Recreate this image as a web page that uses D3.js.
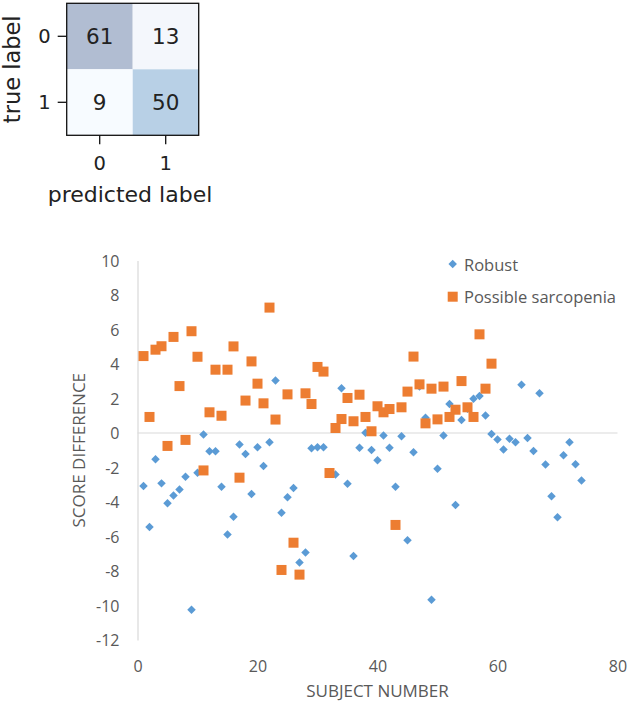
<!DOCTYPE html>
<html>
<head>
<meta charset="utf-8">
<script src="https://cdn.jsdelivr.net/npm/d3@7"></script>
<style>
  html, body { margin: 0; padding: 0; background: #ffffff; }
  svg { display: block; }
</style>
</head>
<body>
<svg id="chart" width="629" height="702"></svg>
<script>
// ---------- DATA ----------
const cmLabels = ["0", "1"];
const cmValues = [[61, 13], [9, 50]];
const cmXLabel = "predicted label";
const cmYLabel = "true label";

const seriesNames = ["Robust", "Possible sarcopenia"];
// Score difference per subject (subject number = position + 1)
const robustValues = [
  -3.07, -5.45, -1.52, -2.92, -4.07, -3.63, -3.28, -2.54, -10.25, -2.30,
  -0.09, -1.06, -1.06, -3.11, -5.89, -4.85, -0.67, -1.22, -3.54, -0.83,
  -1.91, -0.54, 3.04, -4.62, -3.73, -3.19, -7.51, -6.93, -0.89, -0.82,
  -0.82, -2.30, -2.41, 2.60, -2.94, -7.13, -0.85, 0.01, -0.98, -1.58,
  -0.15, -0.85, -3.11, -0.19, -6.22, -1.12, 2.70, 0.89, -9.66, -2.07,
  -0.15, 1.68, -4.17, 0.75, 1.40, 1.99, 2.15, 1.02, -0.06, -0.37,
  -0.96, -0.33, -0.54, 2.80, -0.29, -1.04, 2.30, -1.83, -3.67, -4.89,
  -1.29, -0.54, -1.81, -2.76
];
const sarcopeniaValues = [
  4.46, 0.93, 4.83, 5.03, -0.75, 5.57, 2.72, -0.40, 5.90, 4.42,
  -2.17, 1.20, 3.67, 1.00, 3.67, 5.02, -2.59, 1.88, 4.15, 2.86,
  1.72, 7.27, 0.78, -7.94, 2.24, -6.36, -8.21, 2.30, 1.68, 3.83,
  3.56, -2.32, 0.29, 0.81, 2.03, 0.68, 2.22, 0.93, 0.10, 1.55,
  1.20, 1.39, -5.33, 1.49, 2.40, 4.43, 2.82, 0.56, 2.57, 0.79,
  2.69, 0.93, 1.35, 3.01, 1.49, 0.93, 5.72, 2.57, 4.02
];
const xTicks = [0, 20, 40, 60, 80];
const yTicks = [-12, -10, -8, -6, -4, -2, 0, 2, 4, 6, 8, 10];
const xTitle = "SUBJECT NUMBER";
const yTitle = "SCORE DIFFERENCE";

// ---------- STYLE ----------
const blue = "#5B9BD5", orange = "#ED7D31";
const textGrey = "#595959", axisGrey = "#D9D9D9";
const chartFont = "'Open Sans', 'Liberation Sans', sans-serif";
const mplFont = "'DejaVu Sans', sans-serif";
const plainNum = d => String(d);

const svg = d3.select("#chart");

// ---------- CONFUSION MATRIX ----------
const cm = { left: 66.7, top: 3.3, size: 132 };
const cmx = d3.scaleBand().domain(cmLabels).range([cm.left, cm.left + cm.size]);
const cmy = d3.scaleBand().domain(cmLabels).range([cm.top, cm.top + cm.size]);
const cmColor = d3.scaleLinear()
  .domain([9, 13, 50, 61])
  .range(["#f7fbff", "#f4f7fc", "#b8d0e6", "#b1bdd2"]);

const gcm = svg.append("g");
const cells = [];
cmValues.forEach((row, i) => row.forEach((v, j) => cells.push({ r: cmLabels[i], c: cmLabels[j], v })));
gcm.selectAll("rect.cell").data(cells).join("rect")
  .attr("class", "cell")
  .attr("x", d => cmx(d.c)).attr("y", d => cmy(d.r))
  .attr("width", cmx.bandwidth()).attr("height", cmy.bandwidth())
  .attr("fill", d => cmColor(d.v));
gcm.selectAll("text.val").data(cells).join("text")
  .attr("class", "val")
  .attr("x", d => cmx(d.c) + cmx.bandwidth() / 2)
  .attr("y", d => cmy(d.r) + cmy.bandwidth() / 2)
  .attr("dy", "0.36em")
  .attr("text-anchor", "middle")
  .attr("font-family", mplFont).attr("font-size", 21.5)
  .attr("fill", "#222")
  .text(d => d.v);
gcm.append("rect")
  .attr("x", cm.left).attr("y", cm.top)
  .attr("width", cm.size).attr("height", cm.size)
  .attr("fill", "none").attr("stroke", "#111").attr("stroke-width", 1.3);

const cmLeftAxis = d3.axisLeft(cmy).tickSize(9).tickPadding(7);
gcm.append("g").attr("transform", `translate(${cm.left},0)`).call(cmLeftAxis)
  .call(g => g.select(".domain").remove())
  .call(g => g.selectAll("line").attr("stroke", "#111").attr("stroke-width", 1.3))
  .call(g => g.selectAll("text").attr("font-family", mplFont).attr("font-size", 19.5).attr("fill", "#222"));
const cmBottomAxis = d3.axisBottom(cmx).tickSize(9).tickPadding(12);
gcm.append("g").attr("transform", `translate(0,${cm.top + cm.size})`).call(cmBottomAxis)
  .call(g => g.select(".domain").remove())
  .call(g => g.selectAll("line").attr("stroke", "#111").attr("stroke-width", 1.3))
  .call(g => g.selectAll("text").attr("font-family", mplFont).attr("font-size", 19.5).attr("fill", "#222"));
gcm.append("text")
  .attr("x", 130).attr("y", 201.5)
  .attr("text-anchor", "middle")
  .attr("font-family", mplFont).attr("font-size", 22).attr("fill", "#222")
  .text(cmXLabel);
gcm.append("text")
  .attr("transform", `translate(20,${cm.top + cm.size / 2}) rotate(-90)`)
  .attr("text-anchor", "middle")
  .attr("font-family", mplFont).attr("font-size", 22.5).attr("fill", "#222")
  .text(cmYLabel);

// ---------- SCATTER ----------
const x = d3.scaleLinear().domain([0, 80]).range([137.5, 617.5]);
const y = d3.scaleLinear().domain([-12, 10]).range([640, 260.5]);

const gs = svg.append("g");

// y axis
gs.append("g").attr("transform", `translate(${x(0)},0)`)
  .call(d3.axisLeft(y).tickValues(yTicks).tickFormat(plainNum).tickSize(0).tickPadding(18))
  .call(g => g.select(".domain").attr("stroke", axisGrey).attr("stroke-width", 1.2))
  .call(g => g.selectAll("text").attr("font-family", chartFont).attr("font-size", 16)
    .attr("fill", textGrey).attr("dy", "0.36em"));

// x axis labels at bottom
gs.append("g").attr("transform", `translate(0,${y(-12)})`)
  .call(d3.axisBottom(x).tickValues(xTicks).tickFormat(plainNum).tickSize(0).tickPadding(21))
  .call(g => g.select(".domain").remove())
  .call(g => g.selectAll("text").attr("font-family", chartFont).attr("font-size", 16).attr("fill", textGrey));

// horizontal axis line at zero
gs.append("line")
  .attr("x1", x(0)).attr("x2", x(80))
  .attr("y1", y(0)).attr("y2", y(0))
  .attr("stroke", axisGrey).attr("stroke-width", 1.2);

// titles
gs.append("text")
  .attr("x", (x(0) + x(80)) / 2).attr("y", 697)
  .attr("text-anchor", "middle")
  .attr("font-family", chartFont).attr("font-size", 17).attr("fill", textGrey)
  .text(xTitle);
gs.append("text")
  .attr("transform", `translate(85,${(y(10) + y(-12)) / 2}) rotate(-90)`)
  .attr("text-anchor", "middle")
  .attr("font-family", chartFont).attr("font-size", 17).attr("fill", textGrey)
  .text(yTitle);

const diamond = d3.symbol().type(d3.symbolSquare).size(36);
// Robust: diamonds
gs.append("g").selectAll("path").data(robustValues).join("path")
  .attr("d", diamond())
  .attr("transform", (d, i) => `translate(${x(i + 1)},${y(d)}) rotate(45)`)
  .attr("fill", blue);
// Possible sarcopenia: squares
const sq = 10;
gs.append("g").selectAll("rect").data(sarcopeniaValues).join("rect")
  .attr("x", (d, i) => x(i + 1) - sq / 2)
  .attr("y", d => y(d) - sq / 2)
  .attr("width", sq).attr("height", sq)
  .attr("fill", orange);

// legend
const lg = gs.append("g");
lg.append("path").attr("d", diamond())
  .attr("transform", "translate(452.7,264) rotate(45)").attr("fill", blue);
lg.append("text").attr("x", 464).attr("y", 270.5)
  .attr("font-family", chartFont).attr("font-size", 16.5).attr("fill", textGrey)
  .text(seriesNames[0]);
lg.append("rect").attr("x", 452.7 - sq / 2).attr("y", 296.7 - sq / 2)
  .attr("width", sq).attr("height", sq).attr("fill", orange);
lg.append("text").attr("x", 464).attr("y", 302.5)
  .attr("font-family", chartFont).attr("font-size", 16.5).attr("fill", textGrey)
  .text(seriesNames[1]);
</script>
</body>
</html>
